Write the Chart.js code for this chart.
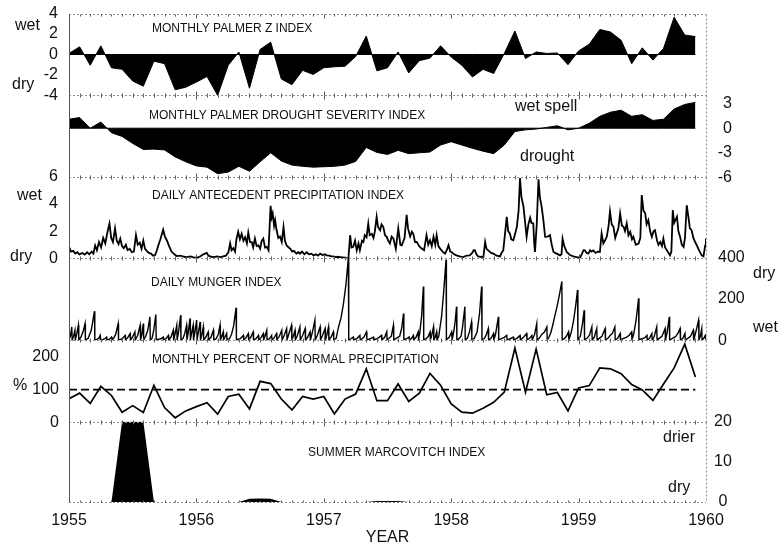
<!DOCTYPE html>
<html>
<head>
<meta charset="utf-8">
<script src="https://cdn.jsdelivr.net/npm/chart.js@4.4.1/dist/chart.umd.min.js"></script>
<style>
  body { margin: 0; background: #fff; width: 779px; height: 542px; overflow: hidden; position: relative; }
  canvas { position: absolute; left: 0; }
</style>
</head>
<body>
<canvas id="cZ"></canvas>
<canvas id="cPdsi"></canvas>
<canvas id="cApi"></canvas>
<canvas id="cMunger"></canvas>
<canvas id="cPct"></canvas>
<canvas id="cMarc"></canvas>
<script>
// monthly series, Jan 1955 .. Dec 1959
const zIndex = [0.1, 0.75, -1.05, 0.85, -1.3, -1.45, -2.6, -3.1, -0.65, -0.9,
  -3.45, -3.2, -2.7, -2.15, -4.0, -1.05, 0.25, -3.3, 0.5, 1.2,
  -2.4, -2.95, -1.55, -1.95, -1.3, -1.2, -1.15, -0.2, 1.8, -1.6,
  -1.3, 0.25, -1.8, -0.6, -0.35, 0.85, -0.25, -1.05, -2.2, -1.45,
  -1.85, 0.1, 2.3, -0.4, 0.25, 0.1, 0.15, -1.0, 0.35, 1.0,
  2.45, 2.2, 1.4, -0.9, 0.65, -0.55, 0.6, 3.65, 1.9, 1.75];

const pdsi = [1.1, 1.3, 0, 0.75, -0.55, -1.0, -1.85, -2.6, -2.55, -2.65,
  -3.5, -4.1, -4.6, -4.75, -5.55, -5.35, -4.65, -5.25, -4.1, -3.0,
  -4.0, -4.5, -4.65, -4.75, -4.7, -4.65, -4.5, -4.05, -2.35, -2.95,
  -3.2, -2.7, -3.1, -3.0, -2.9, -2.05, -1.65, -2.05, -2.45, -2.8,
  -3.1, -2.05, -0.4, -0.2, -0.1, 0.1, 0.3, -0.2, 0.0, 0.6,
  1.45, 1.95, 2.2, 1.45, 1.65, 0.95, 1.1, 2.35, 2.9, 3.15];

const pctNormal = [72, 89, 58, 110, 82, 31, 51, 30, 113, 45,
  14, 35, 48, 60, 25, 79, 86, 41, 125, 118,
  71, 38, 79, 71, 79, 26, 71, 86, 163, 66,
  66, 117, 64, 89, 149, 113, 56, 31, 28, 43,
  61, 92, 226, 92, 223, 84, 91, 35, 105, 112,
  166, 163, 148, 115, 99, 67, 117, 166, 238, 138];
const normalPct = 100;

const marcovitch = [0, 0, 0, 0, 0, 20, 20, 20, 0, 0, 0, 0,
  0, 0, 0, 0, 0, 0.8, 0.85, 0.8, 0, 0, 0, 0,
  0, 0, 0, 0, 0, 0.25, 0.25, 0.25, 0, 0, 0, 0,
  0, 0, 0, 0, 0, 0, 0, 0, 0, 0, 0, 0,
  0, 0, 0, 0, 0, 0, 0, 0, 0, 0, 0, 0];

// daily series: [day since 1 Jan 1955, value]
const apiDaily = [[0,0.85],[6,0.5],[12,0.55],[18,0.35],[24,0.45],[30,0.3],[38,0.4],[45,0.28],[52,0.45],[58,0.3],
  [65,0.5],[70,0.35],[75,0.95],[80,0.6],[86,1.2],[92,0.8],[98,1.5],[104,1.1],[110,1.9],[116,2.55],
  [121,1.5],[126,1.2],[132,2.2],[137,1.3],[142,1.05],[147,1.45],[152,0.9],[157,0.75],[163,1.0],[168,0.6],
  [174,0.7],[180,0.45],[186,0.5],[192,1.7],[197,1.0],[203,1.15],[208,0.7],[213,1.3],[218,0.7],[223,0.55],
  [229,0.4],[235,0.35],[241,0.2],[247,0.25],[252,0.6],[256,0.95],[262,1.4],[270,2.1],[275,1.6],[280,1.35],
  [287,0.9],[294,0.5],[302,0.3],[309,0.17],[320,0.2],[330,0.12],[337,0.1],[348,0.15],[357,0.08],[366,0.05],
  [375,0.12],[385,0.3],[395,0.4],[400,0.2],[408,0.12],[414,0.1],[425,0.15],[435,0.1],[442,0.15],[450,0.2],
  [457,0.45],[462,1.1],[466,0.6],[471,0.75],[476,0.5],[480,1.4],[485,1.95],[490,1.4],[495,1.8],[500,1.3],
  [505,1.55],[510,1.1],[514,1.9],[519,1.2],[524,1.2],[528,0.8],[533,1.45],[538,0.9],[543,0.95],[548,0.7],
  [552,1.25],[557,1.45],[562,0.8],[567,0.85],[572,0.6],[578,3.85],[581,3.0],[584,3.3],[588,2.4],[591,2.8],
  [595,2.1],[600,1.5],[605,1.6],[610,1.2],[615,2.3],[619,1.3],[624,0.95],[630,0.8],[634,0.72],[640,0.5],
  [645,0.55],[652,0.35],[658,0.45],[662,0.35],[668,0.5],[675,0.3],[681,0.45],[688,0.3],[695,0.35],[701,0.22],
  [708,0.3],[714,0.2],[720,0.35],[727,0.25],[733,0.3],[739,0.22],[746,0.2],[752,0.15],[758,0.15],[765,0.1],
  [771,0.12],[777,0.1],[784,0.08],[790,0.05],[796,0.02],[801,0.0],[806,1.7],[810,0.8],[815,0.85],[820,1.3],
  [825,0.6],[830,1.1],[834,0.6],[840,1.3],[844,1.2],[848,1.7],[853,1.55],[858,2.55],[862,1.7],[868,1.8],
  [873,1.5],[877,2.0],[882,3.05],[886,2.3],[892,2.07],[896,2.5],[901,2.32],[906,1.7],[911,1.58],[915,1.3],
  [920,1.09],[925,1.6],[930,1.46],[937,0.7],[944,2.2],[950,1.0],[954,0.96],[962,1.5],[968,3.2],[972,2.2],
  [978,1.6],[983,1.95],[987,1.8],[992,1.2],[997,1.21],[1004,0.9],[1011,0.72],[1018,0.6],[1025,1.7],[1030,1.0],
  [1035,1.33],[1040,0.9],[1045,1.58],[1050,1.0],[1054,1.7],[1059,0.9],[1064,0.72],[1071,0.5],[1078,0.35],[1083,0.6],
  [1088,0.96],[1093,0.5],[1097,0.47],[1104,0.3],[1111,0.22],[1120,0.15],[1130,0.1],[1140,0.2],[1149,0.22],[1156,0.4],
  [1160,0.6],[1164,0.59],[1168,0.3],[1173,0.15],[1180,0.12],[1188,0.1],[1193,1.21],[1197,0.7],[1202,0.59],[1210,0.4],
  [1217,0.35],[1226,0.2],[1236,0.15],[1240,0.4],[1245,0.59],[1250,1.8],[1255,3.05],[1259,2.0],[1264,1.83],[1268,1.4],
  [1274,1.33],[1279,1.8],[1284,2.32],[1289,3.5],[1293,5.9],[1297,4.5],[1303,3.8],[1307,2.8],[1312,1.58],[1317,2.5],
  [1322,2.98],[1326,2.6],[1331,2.57],[1334,1.0],[1336,0.47],[1341,2.5],[1346,5.8],[1350,4.5],[1355,3.8],[1360,2.8],
  [1365,1.58],[1372,1.6],[1379,1.7],[1384,1.0],[1389,0.47],[1398,0.35],[1408,0.22],[1412,0.3],[1415,1.45],[1420,0.9],
  [1427,0.47],[1436,0.25],[1446,0.15],[1455,0.1],[1465,0.05],[1470,0.3],[1475,0.6],[1479,0.59],[1484,0.4],[1489,0.35],
  [1494,0.6],[1498,0.5],[1503,0.59],[1510,0.4],[1516,0.5],[1522,0.47],[1527,1.83],[1532,1.1],[1537,1.33],[1542,1.6],
  [1547,2.4],[1551,3.45],[1556,2.5],[1561,2.32],[1566,1.5],[1570,1.83],[1575,2.2],[1580,3.3],[1585,2.4],[1590,2.32],
  [1594,2.0],[1599,2.57],[1604,1.7],[1609,1.95],[1614,1.4],[1618,1.58],[1625,1.0],[1633,1.09],[1638,1.5],[1642,4.65],
  [1647,3.5],[1652,3.31],[1656,2.5],[1661,2.81],[1666,2.0],[1671,1.58],[1676,2.0],[1680,2.07],[1686,1.3],[1690,1.0],
  [1695,1.21],[1700,0.9],[1704,1.46],[1709,0.8],[1714,0.59],[1719,0.4],[1723,0.22],[1727,0.5],[1731,3.55],[1735,2.6],
  [1743,3.06],[1747,2.0],[1752,1.58],[1757,1.0],[1762,0.84],[1766,1.5],[1771,3.9],[1776,3.0],[1780,2.2],[1785,2.07],
  [1790,1.5],[1795,1.2],[1800,0.96],[1806,0.6],[1814,0.22],[1819,0.15],[1824,0.96],[1826,1.46]];

const mungerDaily = [[0,5],[4,20],[8,65],[9,2],[13,20],[17,49],[18,2],[22,30],[27,73],[28,2],
  [34,15],[40,40],[46,81],[47,2],[55,10],[64,50],[73,141],[74,3],[80,5],[86,12],
  [89,24],[90,2],[98,5],[104,10],[108,16],[109,2],[116,6],[122,16],[123,2],[128,10],
  [134,30],[141,81],[142,2],[150,6],[156,14],[161,24],[162,2],[168,12],[175,33],[176,2],
  [182,15],[189,41],[190,2],[197,25],[204,73],[205,2],[209,30],[213,81],[214,2],[220,20],
  [226,50],[232,114],[233,2],[238,10],[243,50],[249,125],[250,3],[258,6],[264,8],[270,16],
  [271,2],[278,8],[285,24],[286,2],[292,15],[299,49],[300,2],[304,30],[309,73],[310,2],
  [314,40],[320,122],[321,2],[327,10],[332,35],[337,73],[338,2],[342,40],[347,106],[348,2],
  [352,40],[356,73],[357,2],[361,40],[366,98],[367,2],[371,40],[376,89],[377,2],[381,30],
  [385,65],[386,2],[392,15],[399,41],[400,2],[407,15],[414,49],[415,2],[422,8],[428,30],
  [433,73],[434,2],[438,20],[442,41],[443,2],[447,15],[452,33],[453,2],[460,8],[466,30],
  [472,70],[479,158],[480,3],[486,6],[492,10],[500,24],[501,2],[507,12],[514,33],[515,2],
  [521,15],[528,41],[529,2],[536,8],[543,24],[544,2],[550,12],[557,33],[558,2],[562,20],
  [567,49],[568,2],[575,8],[581,24],[582,2],[588,12],[595,33],[596,2],[603,20],[610,49],
  [611,2],[617,25],[624,57],[625,2],[630,30],[638,73],[639,2],[643,20],[648,49],[649,2],
  [655,25],[662,65],[663,2],[670,25],[677,57],[678,2],[684,15],[691,41],[692,2],[698,40],
  [705,98],[706,2],[712,25],[720,65],[721,2],[727,25],[734,57],[735,2],[739,25],[744,65],
  [745,2],[751,15],[758,41],[759,2],[766,10],[772,60],[780,110],[787,179],[794,270],[801,400],
  [802,2],[808,8],[815,16],[816,2],[826,10],[834,24],[835,2],[845,15],[853,41],[854,2],
  [864,8],[873,16],[874,2],[885,10],[896,24],[897,2],[905,15],[911,41],[912,2],[924,20],
  [930,73],[931,2],[938,10],[948,20],[954,60],[959,130],[960,3],[968,8],[975,16],[976,2],
  [982,10],[987,24],[988,2],[995,15],[1001,41],[1002,2],[1006,40],[1011,120],[1016,260],[1017,3],
  [1025,10],[1030,20],[1035,41],[1036,2],[1040,25],[1045,65],[1046,2],[1050,15],[1054,41],[1055,2],
  [1060,20],[1068,114],[1074,230],[1081,390],[1082,3],[1090,15],[1097,41],[1098,2],[1103,40],[1107,90],
  [1111,163],[1112,3],[1118,8],[1124,20],[1128,60],[1135,163],[1136,3],[1142,10],[1148,40],[1154,89],
  [1155,2],[1162,10],[1170,40],[1177,130],[1183,260],[1184,3],[1190,8],[1196,25],[1202,57],[1203,2],
  [1210,10],[1217,33],[1218,2],[1223,30],[1231,114],[1232,2],[1240,8],[1248,15],[1255,24],[1256,2],
  [1265,8],[1274,16],[1275,2],[1284,10],[1293,24],[1294,2],[1303,15],[1312,33],[1313,2],[1320,10],
  [1327,24],[1328,2],[1335,30],[1341,81],[1342,2],[1348,10],[1356,30],[1363,40],[1370,65],[1371,2],
  [1376,15],[1382,40],[1389,89],[1393,120],[1398,154],[1406,220],[1413,285],[1414,3],[1420,8],[1426,20],
  [1432,41],[1433,2],[1440,40],[1446,89],[1452,160],[1458,244],[1459,3],[1466,20],[1472,80],[1477,146],
  [1478,3],[1485,10],[1492,25],[1499,65],[1500,2],[1506,15],[1513,57],[1514,2],[1520,10],[1528,20],
  [1537,57],[1538,2],[1545,10],[1552,25],[1558,35],[1565,65],[1566,2],[1573,10],[1580,33],[1581,2],
  [1590,10],[1598,15],[1606,25],[1613,41],[1614,2],[1619,30],[1626,100],[1633,203],[1634,3],[1642,8],
  [1650,12],[1657,24],[1658,2],[1664,10],[1671,33],[1672,2],[1678,20],[1685,65],[1686,2],[1692,10],
  [1700,20],[1709,57],[1710,2],[1715,40],[1721,114],[1722,2],[1730,10],[1740,20],[1746,35],[1752,57],
  [1753,2],[1760,10],[1766,33],[1767,2],[1774,10],[1782,20],[1790,49],[1791,2],[1797,40],[1805,98],
  [1806,2],[1810,20],[1814,57],[1815,2],[1820,10],[1824,24],[1826,5]];

// axis ticks
const yearTicks = [1955, 1956, 1957, 1958, 1959, 1960];
const zTicks = [-4, -2, 0, 2, 4];
const pdsiTicks = [-6, -3, 0, 3];
const apiTicks = [0, 2, 4, 6];
const mungerTicks = [0, 200, 400];
const pctTicks = [0, 100, 200];
const marcTicks = [0, 10, 20];

const FONT = '"Liberation Sans", Arial, Helvetica, sans-serif';
const INK = '#111';

const monthX = i => 1955 + i / 12;
const dayX = d => 1955 + d / 365.25;
const monthly = arr => arr.map((v, i) => ({ x: monthX(i), y: v }));
const daily = arr => arr.map(p => ({ x: dayX(p[0]), y: p[1] }));
const flat = (arr, v) => arr.map((_, i) => ({ x: monthX(i), y: v }));

// dotted frame with a solid left edge, small month / year ticks
const framePlugin = {
  id: 'frame',
  afterDraw(chart) {
    const { ctx, chartArea: a, scales } = chart;
    const x = scales.x;
    const top = Math.round(a.top) + 0.5, bot = Math.round(a.bottom) + 0.5;
    ctx.save();
    ctx.lineWidth = 1;
    ctx.strokeStyle = '#8c8c8c';
    ctx.setLineDash([2, 2]);
    ctx.beginPath();
    ctx.moveTo(a.left, top); ctx.lineTo(a.right, top);
    ctx.moveTo(a.left, bot); ctx.lineTo(a.right, bot);
    ctx.moveTo(Math.round(a.right) + 0.5, top); ctx.lineTo(Math.round(a.right) + 0.5, bot);
    ctx.stroke();
    ctx.setLineDash([]);
    ctx.strokeStyle = '#555';
    ctx.beginPath();
    ctx.moveTo(Math.round(a.left) + 0.5, top); ctx.lineTo(Math.round(a.left) + 0.5, bot);
    for (let m = 1; m < 60; m++) {
      const px = Math.round(x.getPixelForValue(monthX(m))) + 0.5;
      const len = m % 12 === 0 ? 4 : 2;
      ctx.moveTo(px, top); ctx.lineTo(px, top + len);
      ctx.moveTo(px, bot); ctx.lineTo(px, bot - len);
    }
    ctx.stroke();
    ctx.restore();
  }
};

// free text inside / beside each panel, given in page coordinates
const notesPlugin = {
  id: 'notes',
  afterDraw(chart, args, opts) {
    const { ctx } = chart;
    ctx.save();
    ctx.fillStyle = INK;
    ctx.textBaseline = 'alphabetic';
    ctx.textAlign = 'left';
    (opts.items || []).forEach(n => {
      ctx.font = n.s + 'px ' + FONT;
      ctx.fillText(n.t, n.x, n.y - opts.offset);
    });
    ctx.restore();
  }
};

function buildChart(cv, cfg, axisW, offset) {
  const left = cfg.side === 'left';
  return new Chart(cv, {
    type: 'line',
    data: { datasets: cfg.datasets() },
    options: {
      responsive: false,
      animation: false,
      layout: { padding: { top: 0, bottom: 0, left: left ? 0 : 69, right: left ? 73 : 779 - 706 - axisW } },
      elements: { point: { radius: 0 }, line: { tension: 0 } },
      scales: {
        x: {
          type: 'linear', min: 1955, max: 1960, display: !!cfg.xAxis,
          afterBuildTicks: s => { s.ticks = yearTicks.map(v => ({ value: v })); },
          afterFit: s => { if (cfg.xAxis) s.height = 48; },
          grid: { display: false, drawTicks: false },
          border: { display: false },
          ticks: { font: { family: FONT, size: 16 }, color: INK, padding: 9, maxRotation: 0, autoSkip: false, callback: v => String(v) },
          title: { display: !!cfg.xAxis, text: 'YEAR', font: { family: FONT, size: 16 }, color: INK, padding: { top: 0, bottom: 3 } }
        },
        y: {
          type: 'linear', position: cfg.side, min: cfg.min, max: cfg.max,
          afterBuildTicks: s => { s.ticks = cfg.ticks.map(v => ({ value: v })); },
          afterFit: s => { s.width = axisW; },
          grid: { display: false, drawTicks: false },
          border: { display: false },
          ticks: { font: { family: FONT, size: 16 }, color: INK, padding: cfg.tickPad, autoSkip: false, crossAlign: cfg.crossAlign || 'near', callback: v => String(v) }
        }
      },
      plugins: {
        legend: { display: false },
        tooltip: { enabled: false },
        notes: { offset, items: cfg.notes }
      }
    },
    plugins: [framePlugin, notesPlugin]
  });
}

function makePanel(id, cfg) {
  const h = cfg.bottom - cfg.top;
  const left = cfg.side === 'left';
  const axisW = cfg.axisW || (left ? 69 : 73);
  const cv = document.getElementById(id);
  // first pass: find how much room the library keeps above and below the plot
  cv.width = 779;
  cv.height = h + 100;
  let chart = buildChart(cv, cfg, axisW, 0);
  const above = chart.chartArea.top;
  const below = cv.height - chart.chartArea.bottom;
  chart.destroy();
  // second pass: size and place the canvas so the plot fills its band exactly
  const pageTop = Math.round(cfg.top - above);
  cv.width = 779;
  cv.height = Math.round(cfg.top - pageTop + h + below);
  cv.style.top = pageTop + 'px';
  return buildChart(cv, cfg, axisW, pageTop);
}

const filled = arr => ({ data: monthly(arr), fill: 'origin', backgroundColor: '#000', borderColor: '#000', borderWidth: 1 });
const baseline = arr => ({ data: flat(arr, 0), fill: false, borderColor: '#000', borderWidth: 1 });

makePanel('cZ', {
  top: 14, bottom: 95, side: 'left', min: -4, max: 4, ticks: zTicks, tickPad: 11,
  datasets: () => [filled(zIndex), baseline(zIndex)],
  notes: [
    { t: 'MONTHLY PALMER Z INDEX', x: 152, y: 31.5, s: 12 },
    { t: 'wet', x: 15, y: 30, s: 16 },
    { t: 'dry', x: 12, y: 89, s: 16 }
  ]
});

makePanel('cPdsi', {
  top: 95, bottom: 177, side: 'right', min: -6, max: 4.1, ticks: pdsiTicks,
  axisW: 26, crossAlign: 'far', tickPad: 8,
  datasets: () => [filled(pdsi), baseline(pdsi)],
  notes: [
    { t: 'MONTHLY PALMER DROUGHT SEVERITY INDEX', x: 149, y: 119, s: 12 },
    { t: 'wet spell', x: 515, y: 111, s: 16 },
    { t: 'drought', x: 520, y: 160.5, s: 16 }
  ]
});

makePanel('cApi', {
  top: 177, bottom: 258, side: 'left', min: 0, max: 6, ticks: apiTicks, tickPad: 11,
  datasets: () => [{ data: daily(apiDaily), fill: false, borderColor: '#000', borderWidth: 1.8 }],
  notes: [
    { t: 'DAILY ANTECEDENT PRECIPITATION INDEX', x: 152, y: 199, s: 12 },
    { t: 'wet', x: 17, y: 200, s: 16 },
    { t: 'dry', x: 10, y: 261, s: 16 }
  ]
});

makePanel('cMunger', {
  top: 258, bottom: 340, side: 'right', min: 0, max: 400, ticks: mungerTicks, tickPad: 12,
  datasets: () => [{ data: daily(mungerDaily), fill: false, borderColor: '#000', borderWidth: 1.4 }],
  notes: [
    { t: 'DAILY MUNGER INDEX', x: 151, y: 285.5, s: 12 },
    { t: 'dry', x: 753, y: 278, s: 16 },
    { t: 'wet', x: 753, y: 332, s: 16 }
  ]
});

makePanel('cPct', {
  top: 340, bottom: 422, side: 'left', min: 0, max: 252, ticks: pctTicks, tickPad: 10,
  datasets: () => [
    { data: monthly(pctNormal), fill: false, borderColor: '#000', borderWidth: 1.7 },
    { data: flat(pctNormal, normalPct), fill: false, borderColor: '#000', borderWidth: 1.7, borderDash: [8, 4] }
  ],
  notes: [
    { t: 'MONTHLY PERCENT OF NORMAL PRECIPITATION', x: 152, y: 362.5, s: 12 },
    { t: '%', x: 13, y: 390, s: 16 }
  ]
});

makePanel('cMarc', {
  top: 422, bottom: 502, side: 'right', min: 0, max: 20, ticks: marcTicks, tickPad: 8,
  crossAlign: 'center', xAxis: true,
  datasets: () => [{ data: monthly(marcovitch), fill: 'origin', backgroundColor: '#000', borderColor: '#000', borderWidth: 0 }],
  notes: [
    { t: 'SUMMER MARCOVITCH INDEX', x: 308, y: 456, s: 12 },
    { t: 'drier', x: 663, y: 441.5, s: 16 },
    { t: 'dry', x: 668, y: 491.5, s: 16 }
  ]
});
</script>
</body>
</html>
